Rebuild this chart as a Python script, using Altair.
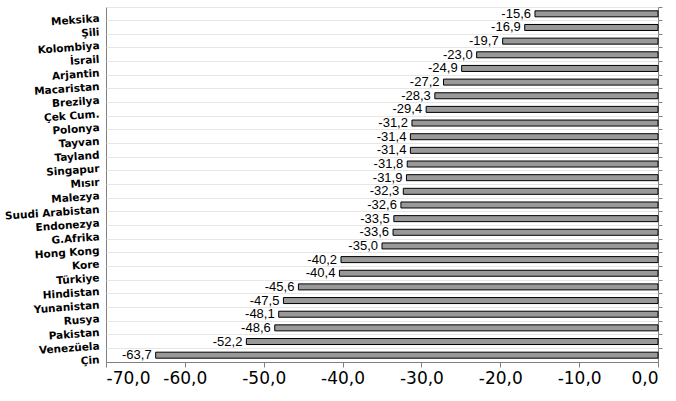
import altair as alt
import pandas as pd

countries = ["Meksika", "Şili", "Kolombiya", "İsrail", "Arjantin", "Macaristan",
             "Brezilya", "Çek Cum.", "Polonya", "Tayvan", "Tayland", "Singapur",
             "Mısır", "Malezya", "Suudi Arabistan", "Endonezya", "G.Afrika",
             "Hong Kong", "Kore", "Türkiye", "Hindistan", "Yunanistan", "Rusya",
             "Pakistan", "Venezüela", "Çin"]
values = [-15.6, -16.9, -19.7, -23.0, -24.9, -27.2, -28.3, -29.4, -31.2, -31.4,
          -31.4, -31.8, -31.9, -32.3, -32.6, -33.5, -33.6, -35.0, -40.2, -40.4,
          -45.6, -47.5, -48.1, -48.6, -52.2, -63.7]
x_ticks = [-70, -60, -50, -40, -30, -20, -10, 0]

df = pd.DataFrame({"country": countries, "value": values})
df["label"] = [f"{v:.1f}".replace(".", ",") for v in values]

yscale = alt.Scale(paddingInner=0, paddingOuter=0)
xenc = alt.X(
    "value:Q",
    scale=alt.Scale(domain=[-70, 0], nice=False),
    axis=alt.Axis(
        values=x_ticks,
        labelExpr="(datum.value < 0 ? '-' : '') + replace(format(abs(datum.value), '.1f'), '.', ',')",
        title=None, grid=False, domain=True, domainColor="#808080",
        ticks=True, tickSize=5, tickColor="#808080",
        labelFont="DejaVu Sans", labelFontSize=17, labelColor="black",
        labelPadding=3,
    ),
)

bars = alt.Chart(df).mark_bar(size=6, color="#999999", stroke="black", strokeWidth=1).encode(
    x=xenc,
    y=alt.Y("country:N", sort=None, scale=yscale,
            axis=alt.Axis(orient="left", title=None, ticks=False, domain=False,
                          grid=True, gridColor="#e6e6e6", bandPosition=0,
                          labelFont="DejaVu Sans", labelFontWeight="bold",
                          labelFontSize=10.5, labelColor="black", labelPadding=7,
                          labelAngle=356, labelOffset=5)),
)

text = alt.Chart(df).mark_text(align="right", baseline="middle", dx=-4,
                               font="Liberation Sans", fontSize=13, color="black").encode(
    x=alt.X("value:Q"),
    y=alt.Y("country:N", sort=None, scale=yscale,
            axis=alt.Axis(orient="right", title=None, labels=False, ticks=True,
                          tickSize=4, tickColor="#808080", domain=False, grid=False,
                          bandPosition=0)),
    text="label:N",
)

chart = alt.layer(bars, text).resolve_axis(y="independent").properties(
    width=552, height=355,
    autosize=alt.AutoSizeParams(type="none"),
    padding={"left": 106, "top": 7, "right": 18, "bottom": 39},
    background="white",
).configure_view(stroke="#808080", strokeWidth=1)

chart.save("out.html", embed_options={"renderer": "svg", "actions": False})
